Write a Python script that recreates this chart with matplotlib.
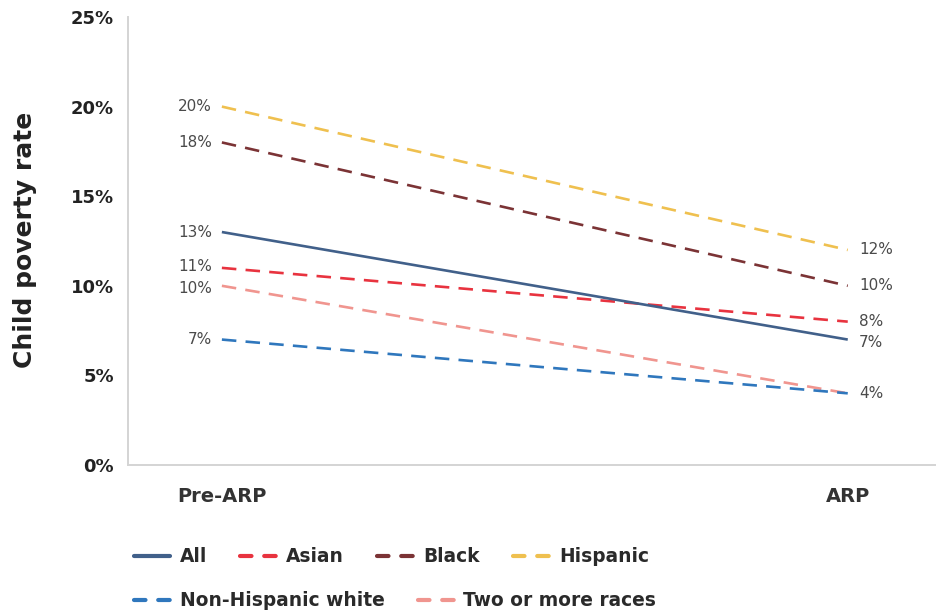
import matplotlib
matplotlib.use("Agg")
import matplotlib.pyplot as plt
from matplotlib.lines import Line2D
from matplotlib.ticker import FuncFormatter

periods = ["Pre-ARP", "ARP"]
series_names = ["All", "Asian", "Black", "Hispanic", "Non-Hispanic white", "Two or more races"]
all_vals = [13, 7]
asian_vals = [11, 8]
black_vals = [18, 10]
hispanic_vals = [20, 12]
nhw_vals = [7, 4]
two_vals = [10, 4]
y_ticks = [0, 5, 10, 15, 20, 25]

colors = {
    "All": "#41608a",
    "Asian": "#e8333f",
    "Black": "#7b3335",
    "Hispanic": "#efc04f",
    "Non-Hispanic white": "#2f77bd",
    "Two or more races": "#f0958f",
}
values = {
    "All": all_vals,
    "Asian": asian_vals,
    "Black": black_vals,
    "Hispanic": hispanic_vals,
    "Non-Hispanic white": nhw_vals,
    "Two or more races": two_vals,
}

plt.rcParams['font.family'] = ['DejaVu Sans']

fig = plt.figure(figsize=(9.36, 6.14), dpi=100)
ax = fig.add_axes([128/936, (614-465)/614, 1 - 128/936, (465-17)/614])

x = [0, 1]
draw_order = ["Two or more races", "Non-Hispanic white", "Asian", "All", "Black", "Hispanic"]
for name in draw_order:
    v = values[name]
    if name == "All":
        ax.plot(x, v, color=colors[name], lw=1.9, solid_capstyle='butt')
    else:
        ax.plot(x, v, color=colors[name], lw=1.9, dashes=(5.5, 3.5), dash_capstyle='butt')

label_color = "#4a4a4a"
left_offsets = {"Asian": 0.1, "Two or more races": -0.15}
right_offsets = {"All": -0.15}
for name in series_names:
    v = values[name]
    ax.text(-0.016, v[0] + left_offsets.get(name, 0), f"{v[0]}%", ha='right', va='center',
            fontsize=11, color=label_color)
    if name == "Two or more races":
        continue
    ax.text(1.018, v[1] + right_offsets.get(name, 0), f"{v[1]}%", ha='left', va='center',
            fontsize=11, color=label_color)

ax.set_xlim(-0.150, 1.141)
ax.set_ylim(0, 25)
ax.set_xticks(x)
ax.set_xticklabels(periods)
ax.set_yticks(y_ticks)
ax.yaxis.set_major_formatter(FuncFormatter(lambda val, pos: f"{int(val)}%"))
for lab in ax.get_yticklabels() + ax.get_xticklabels():
    lab.set_fontweight('bold')
ax.tick_params(axis='y', length=0, pad=10, labelsize=13, labelcolor="#222222")
ax.tick_params(axis='x', length=0, pad=16, labelsize=14, labelcolor="#333333")

for s in ["top", "right"]:
    ax.spines[s].set_visible(False)
for s in ["left", "bottom"]:
    ax.spines[s].set_color("#d4d4d4")
    ax.spines[s].set_linewidth(1.4)

fig.text(25/936, (614-240)/614, "Child poverty rate", rotation=90, ha='center', va='center',
         fontsize=18, fontweight='bold', color="#222222")

def handle(name):
    if name == "All":
        return Line2D([], [], color=colors[name], lw=3, solid_capstyle='round')
    return Line2D([], [], color=colors[name], lw=3, dashes=(2.76, 3.05), dash_capstyle='round')

row1 = ["All", "Asian", "Black", "Hispanic"]
row2 = ["Non-Hispanic white", "Two or more races"]
common = dict(frameon=False, handlelength=1.95, handletextpad=0.5, columnspacing=1.8,
              prop={'weight': 'bold', 'size': 13.4}, borderaxespad=0, borderpad=0,
              labelcolor="#2a2a2a")
leg1 = fig.legend([handle(n) for n in row1], row1, ncol=4, loc='center left',
                  bbox_to_anchor=(134/936, (614-557)/614), **common)
leg2 = fig.legend([handle(n) for n in row2], row2, ncol=2, loc='center left',
                  bbox_to_anchor=(134/936, (614-601)/614), **common)

fig.savefig("out.png", dpi=100)
